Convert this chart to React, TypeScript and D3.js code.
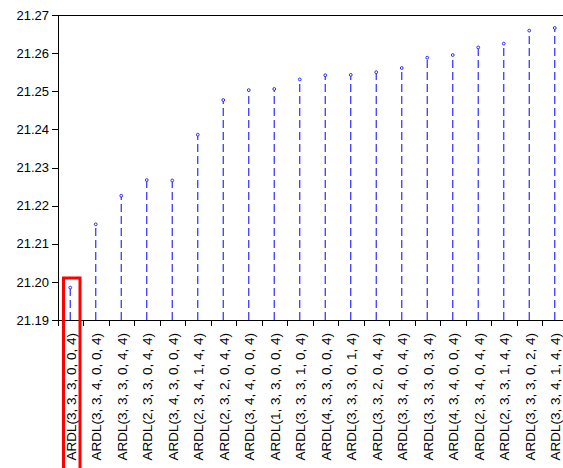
import React from 'react';
import { scaleBand, scaleLinear, range } from 'd3';

const W = 563;
const H = 468;
const FONT = '"Liberation Sans", Arial, sans-serif';
const STEM = '#2b2bff';

const models = [
  'ARDL(3, 3, 3, 0, 0, 4)',
  'ARDL(3, 3, 4, 0, 0, 4)',
  'ARDL(3, 3, 3, 0, 4, 4)',
  'ARDL(2, 3, 3, 0, 4, 4)',
  'ARDL(3, 4, 3, 0, 0, 4)',
  'ARDL(2, 3, 4, 1, 4, 4)',
  'ARDL(2, 3, 2, 0, 4, 4)',
  'ARDL(3, 4, 4, 0, 0, 4)',
  'ARDL(1, 3, 3, 0, 0, 4)',
  'ARDL(3, 3, 3, 1, 0, 4)',
  'ARDL(4, 3, 3, 0, 0, 4)',
  'ARDL(3, 3, 3, 0, 1, 4)',
  'ARDL(3, 3, 2, 0, 4, 4)',
  'ARDL(3, 3, 4, 0, 4, 4)',
  'ARDL(3, 3, 3, 0, 3, 4)',
  'ARDL(4, 3, 4, 0, 0, 4)',
  'ARDL(2, 3, 4, 0, 4, 4)',
  'ARDL(2, 3, 3, 1, 4, 4)',
  'ARDL(3, 3, 3, 0, 2, 4)',
  'ARDL(3, 3, 4, 1, 4, 4)',
];

const criterion = [
  21.1985, 21.2151, 21.2226, 21.2267, 21.2266, 21.2386, 21.2477, 21.2503, 21.2506, 21.2531,
  21.2542, 21.2543, 21.2550, 21.2561, 21.2588, 21.2595, 21.2615, 21.2625, 21.2659, 21.2666,
];

const yTicks = [21.19, 21.2, 21.21, 21.22, 21.23, 21.24, 21.25, 21.26, 21.27];

export default function App() {
  const left = 58;
  const top = 15;
  const bottom = 320;
  const step = 25.5;

  const x = scaleBand<string>()
    .domain(models)
    .range([left - 0.5, left - 0.5 + models.length * step]);
  const y = scaleLinear().domain([21.19, 21.27]).range([bottom, top]);
  const bw = x.bandwidth();
  const cx = (m: string) => (x(m) ?? 0) + bw / 2;

  // highlighted first model
  const hx = cx(models[0]) + 1.5;

  return (
    <svg
      width={W}
      height={H}
      style={{ position: 'absolute', left: 0, top: 0, background: '#fff' }}
      fontFamily={FONT}
    >
      <rect width={W} height={H} fill="#fff" />

      {/* frame */}
      <line x1={left} x2={W} y1={top + 0.5} y2={top + 0.5} stroke="#000" />
      <line x1={left + 0.5} x2={left + 0.5} y1={top} y2={bottom} stroke="#000" />
      <line x1={left - 6} x2={W} y1={bottom + 0.5} y2={bottom + 0.5} stroke="#000" />

      {/* y axis */}
      {yTicks.map((t) => (
        <g key={t}>
          <line
            x1={left - 6}
            x2={left}
            y1={Math.round(y(t)) + 0.5}
            y2={Math.round(y(t)) + 0.5}
            stroke="#000"
          />
          <text
            x={49}
            y={y(t)}
            dy="0.36em"
            textAnchor="end"
            fontSize={13}
            fill="#000"
          >
            {t.toFixed(2)}
          </text>
        </g>
      ))}

      {/* x ticks between models */}
      {range(models.length + 1).map((i) => {
        const xx = Math.round(left - 0.5 + i * step) + 0.5;
        return <line key={i} x1={xx} x2={xx} y1={bottom} y2={bottom + 6} stroke="#000" />;
      })}

      {/* stems */}
      {models.map((m, i) => (
        <g key={m + i}>
          <line
            x1={cx(m)}
            x2={cx(m)}
            y1={y(21.19)}
            y2={y(criterion[i])}
            stroke={STEM}
            strokeWidth={1.2}
            strokeDasharray="8,4"
          />
          <circle cx={cx(m)} cy={y(criterion[i])} r={1.4} fill="#fff" stroke={STEM} strokeWidth={1} />
        </g>
      ))}

      {/* category labels */}
      {models.map((m, i) => (
        <text
          key={'l' + i}
          transform={`translate(${cx(m) + 0.5},${bottom + 13}) rotate(-90)`}
          textAnchor="end"
          dy="0.36em"
          fontSize={13.5}
          fill="#000"
        >
          {m}
        </text>
      ))}

      {/* highlight box */}
      <rect
        x={hx - 8.25}
        y={278}
        width={16.5}
        height={H}
        fill="none"
        stroke="#ff0000"
        strokeWidth={3}
      />
    </svg>
  );
}
